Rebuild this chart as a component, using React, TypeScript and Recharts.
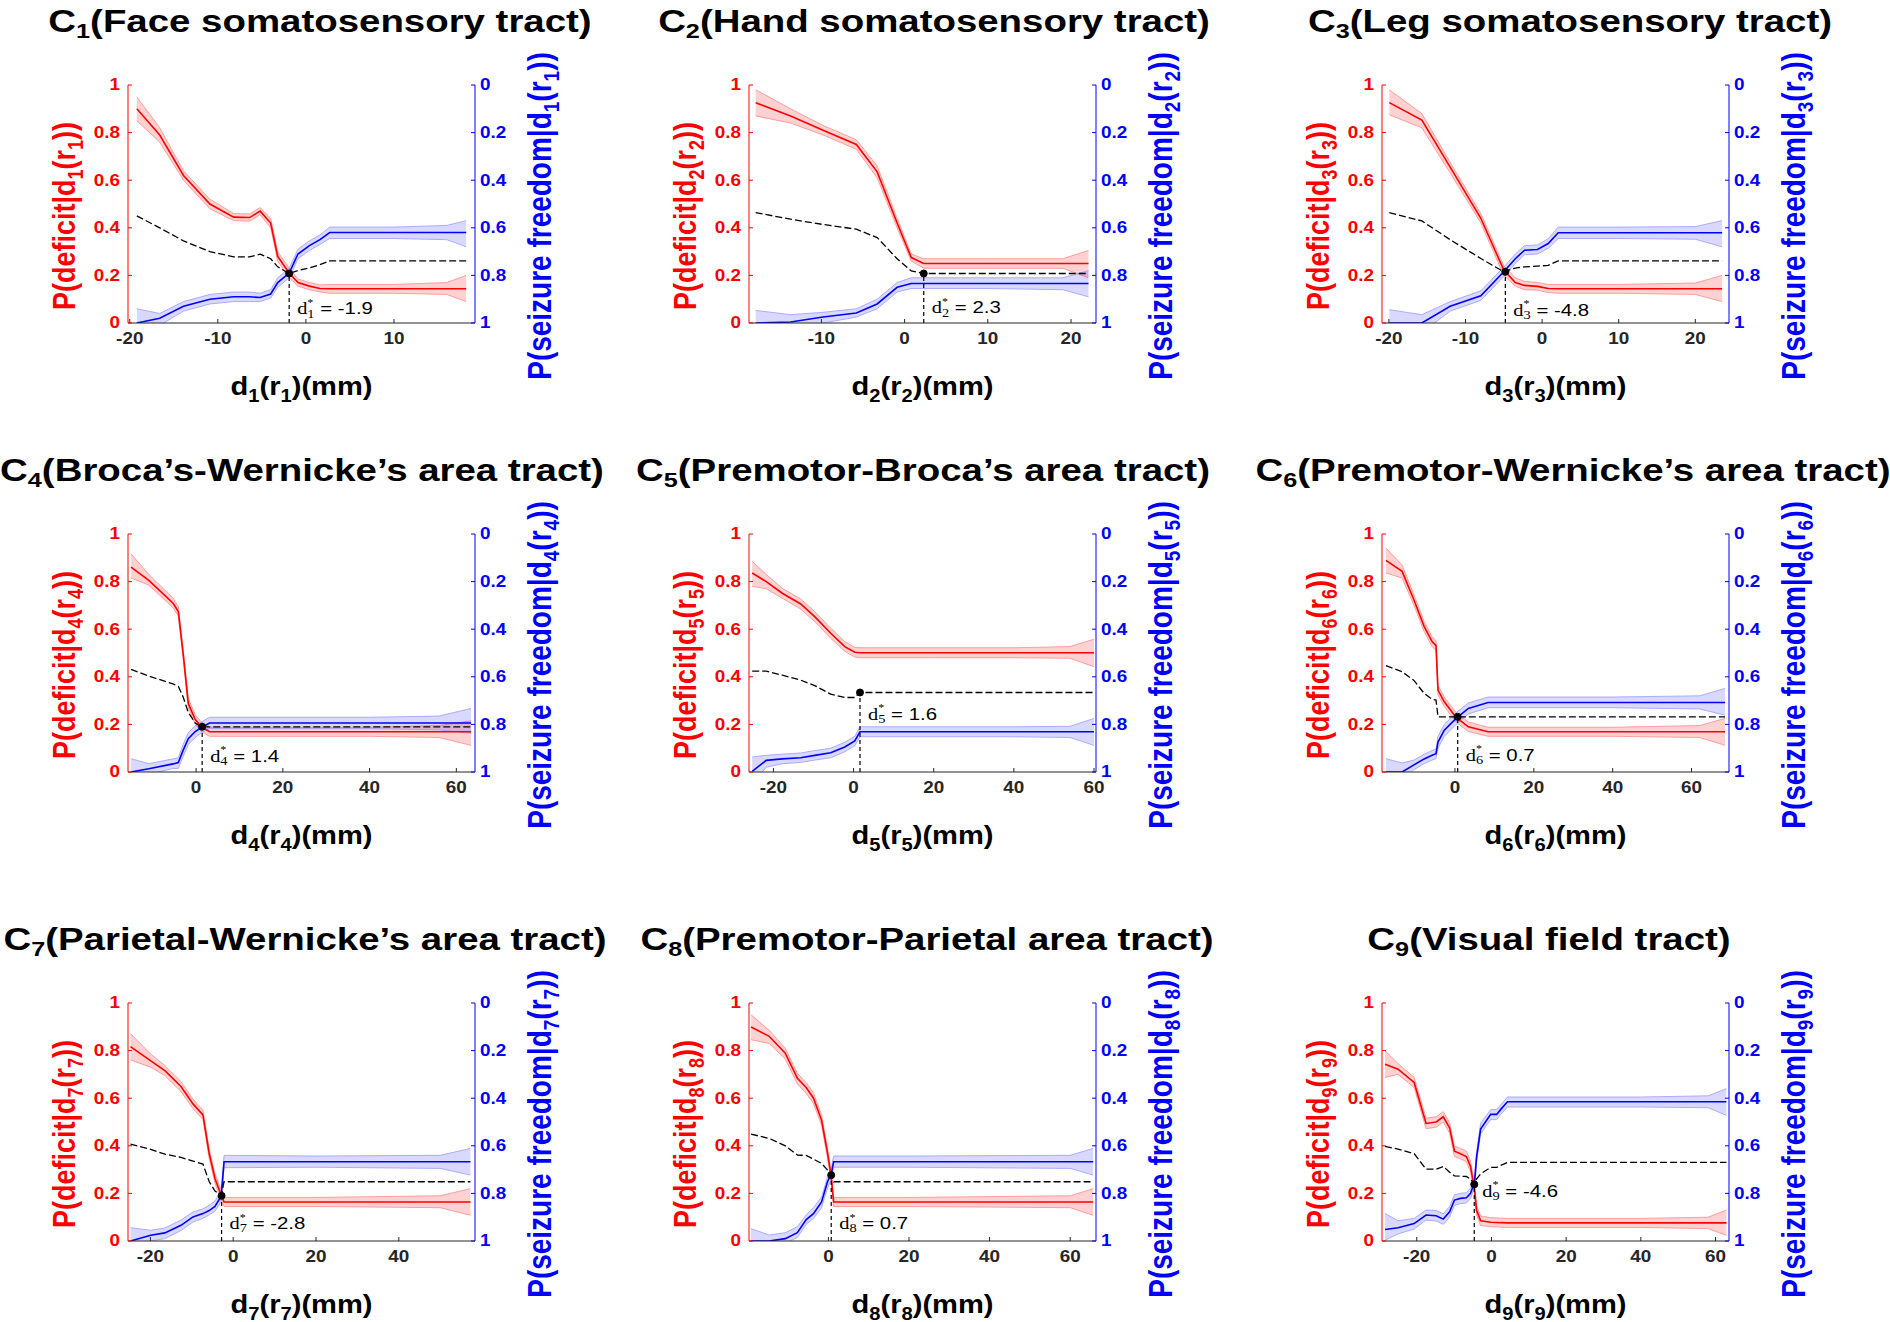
import React from "react";
import {
  ComposedChart,
  Area,
  Line,
  XAxis,
  YAxis,
  ReferenceLine,
  ReferenceDot,
} from "recharts";

const SANS = "'Liberation Sans', Arial, Helvetica, sans-serif";
const SERIF = "'Liberation Serif', 'Times New Roman', serif";
const RED = "#ff0000";
const BLUE = "#0000ff";
const AXIS = "#262626";

// C1 face somatosensory
const c1X = [-19.2, -16.6, -13.9, -10.9, -8.2, -6.4, -5.2, -4.0, -3.2, -1.9, -0.9, 0.4, 1.6, 2.7, 10, 16, 18.2];
const c1Red = [0.9, 0.79, 0.62, 0.5, 0.445, 0.443, 0.47, 0.42, 0.28, 0.21, 0.17, 0.155, 0.145, 0.144, 0.144, 0.144, 0.144];
const c1RedLo = [0.85, 0.76, 0.6, 0.48, 0.43, 0.428, 0.455, 0.4, 0.26, 0.19, 0.155, 0.14, 0.13, 0.125, 0.125, 0.12, 0.09];
const c1RedHi = [0.95, 0.82, 0.64, 0.52, 0.46, 0.458, 0.485, 0.44, 0.3, 0.23, 0.185, 0.17, 0.16, 0.162, 0.162, 0.17, 0.2];
const c1Blue = [1.0, 0.98, 0.93, 0.9, 0.89, 0.89, 0.893, 0.878, 0.83, 0.79, 0.71, 0.675, 0.65, 0.62, 0.62, 0.62, 0.62];
const c1BlueLo = [0.94, 0.96, 0.91, 0.88, 0.87, 0.87, 0.875, 0.86, 0.81, 0.77, 0.69, 0.655, 0.63, 0.597, 0.597, 0.59, 0.57];
const c1BlueHi = [1.06, 1.01, 0.95, 0.92, 0.91, 0.91, 0.91, 0.895, 0.85, 0.81, 0.73, 0.695, 0.67, 0.645, 0.645, 0.65, 0.68];
const c1Black = [0.45, 0.4, 0.345, 0.3, 0.278, 0.278, 0.289, 0.27, 0.236, 0.208, 0.22, 0.232, 0.245, 0.261, 0.261, 0.261, 0.261];

// C2 hand somatosensory
const c2X = [-17.9, -13.7, -9.8, -5.8, -3.3, -0.9, 0.8, 2.3, 10, 19, 22.1];
const c2Red = [0.925, 0.87, 0.81, 0.75, 0.635, 0.42, 0.275, 0.25, 0.25, 0.25, 0.25];
const c2RedLo = [0.87, 0.84, 0.79, 0.73, 0.61, 0.4, 0.26, 0.23, 0.23, 0.23, 0.19];
const c2RedHi = [0.98, 0.9, 0.83, 0.77, 0.66, 0.44, 0.29, 0.27, 0.27, 0.27, 0.305];
const c2Blue = [1.0, 0.996, 0.975, 0.958, 0.92, 0.85, 0.834, 0.834, 0.834, 0.834, 0.834];
const c2BlueLo = [0.947, 0.965, 0.955, 0.94, 0.9, 0.83, 0.81, 0.81, 0.81, 0.81, 0.78];
const c2BlueHi = [1.05, 1.03, 1.0, 0.975, 0.94, 0.87, 0.855, 0.855, 0.855, 0.86, 0.89];
const c2Black = [0.464, 0.436, 0.414, 0.394, 0.359, 0.27, 0.219, 0.208, 0.208, 0.208, 0.208];

// C3 leg somatosensory
const c3X = [-19.95, -15.7, -12.0, -8.0, -5.0, -3.5, -2.3, -0.6, 0.8, 2.1, 10, 20, 23.5];
const c3Red = [0.926, 0.853, 0.655, 0.44, 0.222, 0.17, 0.158, 0.154, 0.145, 0.144, 0.144, 0.144, 0.144];
const c3RedLo = [0.875, 0.82, 0.63, 0.42, 0.2, 0.155, 0.14, 0.138, 0.128, 0.125, 0.125, 0.12, 0.09];
const c3RedHi = [0.98, 0.88, 0.675, 0.46, 0.24, 0.19, 0.175, 0.17, 0.162, 0.162, 0.162, 0.168, 0.2];
const c3Blue = [1.0, 1.0, 0.93, 0.886, 0.785, 0.73, 0.694, 0.691, 0.666, 0.621, 0.621, 0.621, 0.621];
const c3BlueLo = [0.944, 0.965, 0.91, 0.865, 0.765, 0.71, 0.675, 0.672, 0.646, 0.597, 0.597, 0.595, 0.57];
const c3BlueHi = [1.06, 1.04, 0.95, 0.905, 0.805, 0.75, 0.713, 0.71, 0.686, 0.645, 0.645, 0.648, 0.68];
const c3Black = [0.464, 0.429, 0.35, 0.271, 0.215, 0.231, 0.236, 0.239, 0.242, 0.261, 0.261, 0.261, 0.261];

// C4 Broca-Wernicke
const c4X = [-15.0, -10.9, -5.3, -4.1, -3.0, -1.8, -0.2, 1.2, 3.1, 20, 40, 56, 63.4];
const c4Red = [0.861, 0.805, 0.709, 0.674, 0.5, 0.288, 0.22, 0.19, 0.169, 0.169, 0.169, 0.169, 0.169];
const c4RedLo = [0.815, 0.785, 0.69, 0.655, 0.48, 0.27, 0.2, 0.17, 0.15, 0.15, 0.15, 0.145, 0.112];
const c4RedHi = [0.917, 0.83, 0.73, 0.695, 0.52, 0.31, 0.24, 0.21, 0.188, 0.188, 0.188, 0.195, 0.215];
const c4Blue = [1.0, 0.986, 0.966, 0.96, 0.909, 0.86, 0.83, 0.813, 0.794, 0.794, 0.794, 0.794, 0.794];
const c4BlueLo = [0.944, 0.965, 0.945, 0.94, 0.885, 0.835, 0.805, 0.79, 0.77, 0.77, 0.77, 0.765, 0.733];
const c4BlueHi = [1.06, 1.01, 0.985, 0.985, 0.935, 0.885, 0.855, 0.835, 0.818, 0.818, 0.818, 0.823, 0.838];
const c4Black = [0.431, 0.403, 0.37, 0.36, 0.316, 0.25, 0.206, 0.19, 0.19, 0.19, 0.19, 0.19, 0.19];

// C5 premotor-Broca
const c5X = [-25.3, -21.8, -17.8, -13.2, -9.7, -5.7, -2.2, 0.3, 1.6, 20, 40, 54, 60];
const c5Red = [0.836, 0.8, 0.751, 0.706, 0.653, 0.583, 0.527, 0.503, 0.501, 0.501, 0.501, 0.501, 0.501];
const c5RedLo = [0.78, 0.77, 0.73, 0.685, 0.632, 0.562, 0.507, 0.483, 0.48, 0.48, 0.48, 0.478, 0.442];
const c5RedHi = [0.885, 0.83, 0.772, 0.727, 0.674, 0.604, 0.548, 0.523, 0.522, 0.522, 0.522, 0.527, 0.558];
const c5Blue = [0.997, 0.951, 0.945, 0.94, 0.93, 0.919, 0.895, 0.869, 0.831, 0.831, 0.831, 0.831, 0.831];
const c5BlueLo = [0.937, 0.93, 0.925, 0.92, 0.91, 0.9, 0.875, 0.85, 0.81, 0.81, 0.81, 0.808, 0.775];
const c5BlueHi = [1.05, 0.98, 0.965, 0.96, 0.95, 0.94, 0.915, 0.89, 0.852, 0.852, 0.852, 0.855, 0.888];
const c5Black = [0.424, 0.424, 0.407, 0.386, 0.363, 0.327, 0.313, 0.313, 0.334, 0.334, 0.334, 0.334, 0.334];

// C6 premotor-Wernicke
const c6X = [-17.5, -13.4, -10.4, -7.8, -5.8, -4.8, -4.3, -2.7, 0.3, 3.4, 8.4, 40, 62, 68.5];
const c6Red = [0.889, 0.843, 0.723, 0.611, 0.548, 0.531, 0.344, 0.295, 0.229, 0.19, 0.169, 0.169, 0.169, 0.169];
const c6RedLo = [0.836, 0.815, 0.7, 0.59, 0.527, 0.51, 0.324, 0.275, 0.21, 0.17, 0.15, 0.15, 0.145, 0.112];
const c6RedHi = [0.941, 0.87, 0.745, 0.632, 0.569, 0.552, 0.364, 0.315, 0.25, 0.21, 0.188, 0.188, 0.195, 0.225];
const c6Blue = [1.0, 1.0, 0.97, 0.945, 0.93, 0.923, 0.874, 0.824, 0.775, 0.733, 0.708, 0.708, 0.708, 0.708];
const c6BlueLo = [0.944, 0.962, 0.95, 0.925, 0.91, 0.903, 0.85, 0.8, 0.75, 0.71, 0.685, 0.685, 0.68, 0.649];
const c6BlueHi = [1.06, 1.04, 0.99, 0.965, 0.95, 0.943, 0.9, 0.85, 0.8, 0.756, 0.73, 0.73, 0.735, 0.761];
const c6Black = [0.447, 0.421, 0.385, 0.33, 0.306, 0.302, 0.232, 0.232, 0.232, 0.232, 0.232, 0.232, 0.232, 0.232];

// C7 parietal-Wernicke
const c7X = [-24.8, -19.9, -16.5, -12.6, -9.7, -7.3, -5.8, -4.4, -2.9, -2.2, 20, 50, 57.3];
const c7Red = [0.817, 0.757, 0.716, 0.649, 0.576, 0.53, 0.368, 0.263, 0.192, 0.164, 0.164, 0.164, 0.164];
const c7RedLo = [0.761, 0.73, 0.695, 0.628, 0.556, 0.51, 0.348, 0.243, 0.172, 0.145, 0.145, 0.14, 0.108];
const c7RedHi = [0.871, 0.785, 0.737, 0.67, 0.596, 0.55, 0.388, 0.283, 0.212, 0.183, 0.183, 0.19, 0.22];
const c7Blue = [1.0, 0.976, 0.966, 0.934, 0.899, 0.885, 0.872, 0.855, 0.812, 0.667, 0.667, 0.667, 0.667];
const c7BlueLo = [0.944, 0.955, 0.945, 0.912, 0.878, 0.865, 0.85, 0.832, 0.79, 0.64, 0.643, 0.64, 0.611];
const c7BlueHi = [1.06, 1.0, 0.99, 0.956, 0.92, 0.905, 0.89, 0.875, 0.835, 0.692, 0.69, 0.695, 0.723];
const c7Black = [0.407, 0.385, 0.365, 0.351, 0.336, 0.323, 0.25, 0.21, 0.192, 0.249, 0.249, 0.249, 0.249];

// C8 premotor-parietal
const c8X = [-19.2, -14.7, -10.7, -7.7, -5.5, -3.7, -1.7, -0.2, 0.7, 1.3, 20, 60, 65.7];
const c8Red = [0.899, 0.86, 0.789, 0.684, 0.645, 0.6, 0.508, 0.368, 0.27, 0.164, 0.164, 0.164, 0.164];
const c8RedLo = [0.846, 0.83, 0.765, 0.66, 0.62, 0.578, 0.486, 0.346, 0.25, 0.145, 0.145, 0.14, 0.108];
const c8RedHi = [0.951, 0.885, 0.81, 0.705, 0.665, 0.622, 0.53, 0.39, 0.29, 0.183, 0.183, 0.19, 0.22];
const c8Blue = [1.0, 1.0, 0.99, 0.965, 0.91, 0.885, 0.836, 0.75, 0.72, 0.667, 0.667, 0.667, 0.667];
const c8BlueLo = [0.948, 0.975, 0.965, 0.94, 0.89, 0.86, 0.815, 0.73, 0.695, 0.643, 0.643, 0.64, 0.611];
const c8BlueHi = [1.06, 1.03, 1.01, 0.985, 0.93, 0.905, 0.86, 0.775, 0.745, 0.69, 0.69, 0.695, 0.723];
const c8Black = [0.449, 0.431, 0.4, 0.361, 0.36, 0.344, 0.326, 0.298, 0.277, 0.249, 0.249, 0.249, 0.249];

// C9 visual field
const c9X = [-28.5, -25.0, -20.7, -17.5, -14.8, -12.9, -11.2, -9.9, -8.3, -6.7, -5.6, -4.5, -4.0, -2.9, -0.2, 1.4, 2.5, 4.3, 40, 58, 62.9];
const c9Red = [0.743, 0.722, 0.666, 0.494, 0.5, 0.522, 0.475, 0.377, 0.367, 0.355, 0.313, 0.214, 0.13, 0.085, 0.079, 0.078, 0.077, 0.076, 0.076, 0.076, 0.076];
const c9RedLo = [0.687, 0.7, 0.645, 0.472, 0.478, 0.5, 0.453, 0.355, 0.345, 0.333, 0.291, 0.192, 0.11, 0.065, 0.06, 0.059, 0.058, 0.057, 0.057, 0.052, 0.024];
const c9RedHi = [0.8, 0.745, 0.688, 0.516, 0.522, 0.544, 0.497, 0.399, 0.389, 0.377, 0.335, 0.236, 0.15, 0.105, 0.098, 0.097, 0.096, 0.095, 0.095, 0.1, 0.13];
const c9Blue = [0.952, 0.944, 0.927, 0.891, 0.894, 0.908, 0.877, 0.828, 0.821, 0.818, 0.8, 0.75, 0.65, 0.53, 0.468, 0.468, 0.447, 0.415, 0.415, 0.415, 0.415];
const c9BlueLo = [0.884, 0.915, 0.905, 0.87, 0.872, 0.886, 0.855, 0.806, 0.8, 0.797, 0.778, 0.728, 0.628, 0.505, 0.448, 0.448, 0.427, 0.395, 0.395, 0.39, 0.36];
const c9BlueHi = [0.997, 0.97, 0.95, 0.912, 0.916, 0.93, 0.9, 0.85, 0.843, 0.84, 0.822, 0.772, 0.672, 0.55, 0.49, 0.49, 0.468, 0.437, 0.437, 0.44, 0.472];
const c9Black = [0.398, 0.386, 0.367, 0.302, 0.302, 0.313, 0.289, 0.274, 0.272, 0.271, 0.26, 0.238, 0.26, 0.282, 0.309, 0.309, 0.318, 0.33, 0.33, 0.33, 0.33];

const titles = [
  "Face somatosensory tract",
  "Hand somatosensory tract",
  "Leg somatosensory tract",
  "Broca’s-Wernicke’s area tract",
  "Premotor-Broca’s area tract",
  "Premotor-Wernicke’s area tract",
  "Parietal-Wernicke’s area tract",
  "Premotor-Parietal area tract",
  "Visual field tract",
];

const xTicks = [
  [-20, -10, 0, 10],
  [-10, 0, 10, 20],
  [-20, -10, 0, 10, 20],
  [0, 20, 40, 60],
  [-20, 0, 20, 40, 60],
  [0, 20, 40, 60],
  [-20, 0, 20, 40],
  [0, 20, 40, 60],
  [-20, 0, 20, 40, 60],
];
const xDomains = [
  [-20.2, 19.2],
  [-18.7, 23.0],
  [-20.9, 24.4],
  [-15.7, 64.3],
  [-26.1, 60.5],
  [-18.5, 69.5],
  [-25.4, 58.4],
  [-19.7, 66.4],
  [-29.3, 63.6],
];
const dStar = [-1.9, 2.3, -4.8, 1.4, 1.6, 0.7, -2.8, 0.7, -4.6];
const pStar = [0.208, 0.208, 0.215, 0.19, 0.334, 0.232, 0.19, 0.277, 0.238];
const noteY = [0.063, 0.067, 0.056, 0.07, 0.246, 0.073, 0.076, 0.076, 0.212];
const yTicks = [0, 0.2, 0.4, 0.6, 0.8, 1];

const series = [
  [c1X, c1Red, c1RedLo, c1RedHi, c1Blue, c1BlueLo, c1BlueHi, c1Black],
  [c2X, c2Red, c2RedLo, c2RedHi, c2Blue, c2BlueLo, c2BlueHi, c2Black],
  [c3X, c3Red, c3RedLo, c3RedHi, c3Blue, c3BlueLo, c3BlueHi, c3Black],
  [c4X, c4Red, c4RedLo, c4RedHi, c4Blue, c4BlueLo, c4BlueHi, c4Black],
  [c5X, c5Red, c5RedLo, c5RedHi, c5Blue, c5BlueLo, c5BlueHi, c5Black],
  [c6X, c6Red, c6RedLo, c6RedHi, c6Blue, c6BlueLo, c6BlueHi, c6Black],
  [c7X, c7Red, c7RedLo, c7RedHi, c7Blue, c7BlueLo, c7BlueHi, c7Black],
  [c8X, c8Red, c8RedLo, c8RedHi, c8Blue, c8BlueLo, c8BlueHi, c8Black],
  [c9X, c9Red, c9RedLo, c9RedHi, c9Blue, c9BlueLo, c9BlueHi, c9Black],
];

// layout: plot-area corners in page pixels
const COL_LEFT = [128, 749, 1382];
const ROW_TOP = [85, 534, 1003];
const TITLE_NUDGE = [18, 11, 14, 0, 0, 17, 3, 4, -7];
const PW = 347;
const PH = 238;
const SIDE = 110;
const TOPPAD = 100;
// the figure's text is drawn a bit wider than the font's natural width
const STRETCH = 1.18;

function sub(n: number, size: number) {
  return (
    <tspan baselineShift="sub" fontSize={size}>
      {n}
    </tspan>
  );
}

function makeTick(fill: string, anchor: "start" | "middle" | "end") {
  return (props: any) => (
    <g transform={`translate(${props.x},${props.y}) scale(${STRETCH},1)`}>
      <text
        x={0}
        y={0}
        textAnchor={anchor}
        dominantBaseline="central"
        fill={fill}
        fontFamily={SANS}
        fontWeight="bold"
        fontSize={16}
      >
        {props.payload.value}
      </text>
    </g>
  );
}

function Panel({ idx }: { idx: number }) {
  const n = idx + 1;
  const [xs, red, redLo, redHi, blue, blueLo, blueHi, black] = series[idx];
  const rows = xs.map((x, i) => ({
    x,
    red: red[i],
    redBand: [redLo[i], redHi[i]],
    blue: blue[i],
    blueBand: [blueLo[i], blueHi[i]],
    black: black[i],
  }));
  const left = COL_LEFT[idx % 3] - SIDE;
  const top = ROW_TOP[Math.floor(idx / 3)] - TOPPAD;
  const W = PW + 2 * SIDE;
  const H = TOPPAD + PH + 100;

  const vLabel = (
    color: string,
    size: number,
    dx: number,
    body: React.ReactNode
  ) => (props: any) => {
    const vb = props.viewBox;
    const cx = dx < 0 ? vb.x + vb.width + dx : vb.x + dx;
    const cy = vb.y + vb.height / 2 + 12;
    return (
      <g transform={`translate(${cx},${cy}) scale(1.18,1) rotate(-90)`}>
        <text
          x={0}
          y={0}
          textAnchor="middle"
          dominantBaseline="central"
          fill={color}
          fontFamily={SANS}
          fontWeight="bold"
          fontSize={size}
        >
          {body}
        </text>
      </g>
    );
  };
  const leftLabel = vLabel(
    RED,
    27,
    -64,
    <>
      P(deficit|d{sub(n, 18)}(r{sub(n, 18)}))
    </>
  );
  const rightLabel = vLabel(
    BLUE,
    28,
    64,
    <>
      P(seizure freedom|d{sub(n, 19)}(r{sub(n, 19)}))
    </>
  );
  const xLabel = (props: any) => {
    const vb = props.viewBox;
    const cx = vb.x + vb.width / 2;
    const cy = vb.y + 63;
    return (
      <g transform={`translate(${cx},${cy}) scale(1.12,1)`}>
        <text
          x={0}
          y={0}
          textAnchor="middle"
          dominantBaseline="central"
          fill="#000"
          fontFamily={SANS}
          fontWeight="bold"
          fontSize={26}
        >
          d{sub(n, 18)}(r{sub(n, 18)})(mm)
        </text>
      </g>
    );
  };
  const note = (props: any) => (
    <g transform={`translate(${props.cx + 8},${props.cy}) scale(1.2,1)`}>
      <text x={0} y={0} dominantBaseline="central" fill="#000" fontSize={17}>
        <tspan fontFamily={SERIF}>d</tspan>
        <tspan fontFamily={SERIF} fontSize={10} dy={-6}>
          *
        </tspan>
        <tspan fontFamily={SERIF} fontSize={12} dx={-5} dy={11}>
          {n}
        </tspan>
        <tspan fontFamily={SANS} dy={-5}>
          {" "}= {dStar[idx]}
        </tspan>
      </text>
    </g>
  );

  return (
    <div style={{ position: "absolute", left, top, width: W, height: H }}>
      <div
        style={{
          position: "absolute",
          left: SIDE + PW / 2 + TITLE_NUDGE[idx] - 400,
          width: 800,
          top: TOPPAD - 64 - 20,
          height: 40,
          lineHeight: "40px",
          textAlign: "center",
          whiteSpace: "nowrap",
          fontFamily: SANS,
          fontWeight: "bold",
          fontSize: 32,
          color: "#000",
          transform: "scaleX(1.2)",
        }}
      >
        C
        <sub style={{ fontSize: 21, lineHeight: 0, verticalAlign: -6 }}>{n}</sub>
        ({titles[idx]})
      </div>
      <ComposedChart
        width={W}
        height={H}
        data={rows}
        margin={{ top: TOPPAD, right: 0, bottom: 60, left: 0 }}
      >
        <XAxis
          dataKey="x"
          type="number"
          domain={xDomains[idx]}
          ticks={xTicks[idx]}
          interval={0}
          allowDataOverflow
          height={40}
          stroke={AXIS}
          tickSize={-4}
          tickMargin={20}
          tick={makeTick(AXIS, "middle")}
          label={xLabel}
        />
        <YAxis
          yAxisId="L"
          domain={[0, 1]}
          ticks={yTicks}
          allowDataOverflow
          width={SIDE}
          stroke={RED}
          tickSize={-4}
          tickMargin={12}
          tick={makeTick(RED, "end")}
          label={leftLabel}
        />
        <YAxis
          yAxisId="R"
          orientation="right"
          reversed
          domain={[0, 1]}
          ticks={yTicks}
          allowDataOverflow
          width={SIDE}
          stroke={BLUE}
          tickSize={-4}
          tickMargin={9}
          tick={makeTick(BLUE, "start")}
          label={rightLabel}
        />
        <Area
          yAxisId="L"
          type="linear"
          dataKey="redBand"
          fill={RED}
          fillOpacity={0.18}
          stroke="#ff8a8a"
          strokeWidth={0.8}
          dot={false}
          activeDot={false}
          isAnimationActive={false}
        />
        <Area
          yAxisId="R"
          type="linear"
          dataKey="blueBand"
          fill={BLUE}
          fillOpacity={0.15}
          stroke="#9a9aff"
          strokeWidth={0.8}
          dot={false}
          activeDot={false}
          isAnimationActive={false}
        />
        <Line
          yAxisId="L"
          type="linear"
          dataKey="red"
          stroke={RED}
          strokeWidth={1.6}
          dot={false}
          activeDot={false}
          isAnimationActive={false}
        />
        <Line
          yAxisId="R"
          type="linear"
          dataKey="blue"
          stroke={BLUE}
          strokeWidth={1.6}
          dot={false}
          activeDot={false}
          isAnimationActive={false}
        />
        <Line
          yAxisId="L"
          type="linear"
          dataKey="black"
          stroke="#000"
          strokeWidth={1.3}
          strokeDasharray="7 3"
          dot={false}
          activeDot={false}
          isAnimationActive={false}
        />
        <ReferenceLine
          yAxisId="L"
          segment={[
            { x: dStar[idx], y: 0 },
            { x: dStar[idx], y: pStar[idx] },
          ]}
          stroke="#000"
          strokeWidth={1.2}
          strokeDasharray="4 3"
        />
        <ReferenceDot
          yAxisId="L"
          x={dStar[idx]}
          y={pStar[idx]}
          r={3.5}
          fill="#000"
          stroke="#000"
        />
        <ReferenceDot
          yAxisId="L"
          x={dStar[idx]}
          y={noteY[idx]}
          r={0}
          shape={note}
        />
      </ComposedChart>
    </div>
  );
}

export default function App() {
  return (
    <div
      style={{
        position: "absolute",
        left: 0,
        top: 0,
        width: 1890,
        height: 1322,
        background: "#fff",
      }}
    >
      {series.map((_, i) => (
        <Panel key={i} idx={i} />
      ))}
    </div>
  );
}
